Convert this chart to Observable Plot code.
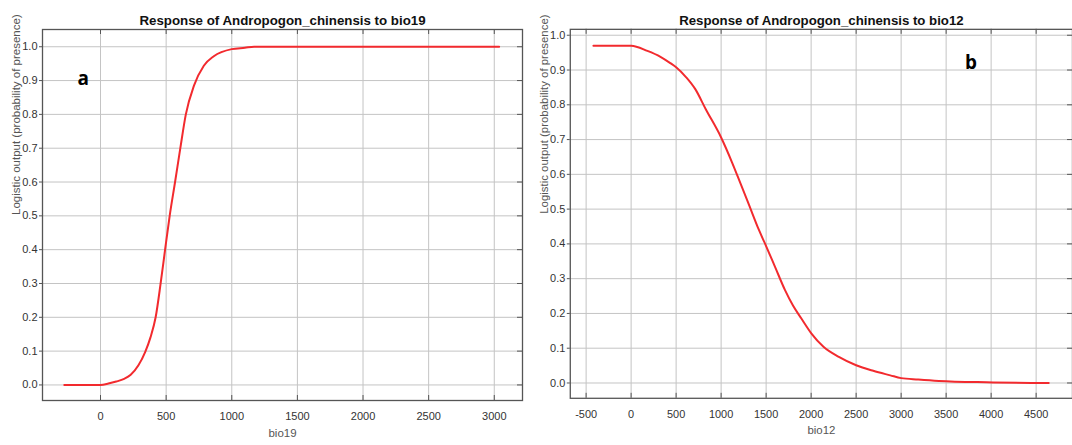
<!DOCTYPE html>
<html>
<head>
<meta charset="utf-8">
<script src="https://cdn.jsdelivr.net/npm/d3@7"></script>
<script src="https://cdn.jsdelivr.net/npm/@observablehq/plot@0.6"></script>
<style>
  html, body { margin: 0; padding: 0; background: #fff; overflow: hidden; }
  #wrap { position: relative; width: 1072px; height: 445px; overflow: hidden; }
  #left, #right { position: absolute; top: 0; }
  #left { left: 0; }
  #right { left: 530px; }
  svg { display: block; }
</style>
</head>
<body>
<div id="wrap"><div id="left"></div><div id="right"></div></div>
<script>
// ---- data ----
const titleA = "Response of Andropogon_chinensis to bio19";
const titleB = "Response of Andropogon_chinensis to bio12";
const xLabelA = "bio19";
const xLabelB = "bio12";
const yLabel = "Logistic output (probability of presence)";
const panelA = "a";
const panelB = "b";

const bio19 = [-276, 0, 60, 120, 180, 230, 289, 340, 380, 420, 458, 492, 527, 568, 608, 650, 712, 787, 863, 1000, 1100, 1170, 3037];
const respA = [0, 0, 0.004, 0.01, 0.018, 0.03, 0.058, 0.097, 0.14, 0.2, 0.3, 0.4, 0.5, 0.6, 0.7, 0.8, 0.885, 0.944, 0.972, 0.993, 0.997, 1.0, 1.0];

const bio12 = [-419, 0, 181, 326, 435, 500, 612, 713, 828, 1000, 1122, 1215, 1310, 1420, 1489, 1599, 1710, 1800, 1890, 2004, 2137, 2308, 2500, 2690, 2880, 3000, 3190, 3420, 3950, 4640];
const respB = [0.97, 0.97, 0.955, 0.938, 0.92, 0.908, 0.879, 0.845, 0.788, 0.706, 0.634, 0.574, 0.512, 0.44, 0.4, 0.334, 0.267, 0.222, 0.186, 0.142, 0.104, 0.075, 0.051, 0.035, 0.022, 0.014, 0.010, 0.006, 0.002, 0.0];

const xTicksA = [0, 500, 1000, 1500, 2000, 2500, 3000];
const xTicksB = [-500, 0, 500, 1000, 1500, 2000, 2500, 3000, 3500, 4000, 4500];
const yTicks = [0, 0.1, 0.2, 0.3, 0.4, 0.5, 0.6, 0.7, 0.8, 0.9, 1.0];

const FONT = "'Liberation Sans', Arial, sans-serif";

function panel({width, marginLeft, marginRight, xDomain, yDomain, xTicks, xs, ys, title, xLabel, letter, letterDx, letterDy}) {
  const height = 445, marginTop = 29, marginBottom = 45;
  const H = height - marginTop - marginBottom;
  const W = width - marginLeft - marginRight;
  const data = xs.map((x, i) => ({x, y: ys[i]}));
  return Plot.plot({
    width, height, marginLeft, marginRight, marginTop, marginBottom,
    style: {fontFamily: FONT, fontSize: "11px", color: "#333", background: "#fff"},
    x: {domain: xDomain, label: null},
    y: {domain: yDomain, label: null},
    marks: [
      Plot.gridX(xTicks, {stroke: "#c4c4c4", strokeOpacity: 1, strokeWidth: 1}),
      Plot.gridY(yTicks, {stroke: "#c4c4c4", strokeOpacity: 1, strokeWidth: 1}),
      Plot.axisY(yTicks, {tickSize: 3, tickPadding: 2, tickFormat: d3.format(".1f"), stroke: "#555", fill: "#333", label: null}),
      Plot.axisX(xTicks, {tickSize: 0, tickPadding: 12, tickFormat: d => String(d), fill: "#333", label: null}),
      Plot.tickX(xTicks, {x: d => d, insetTop: H - 5, stroke: "#555"}),
      Plot.tickX(xTicks, {x: d => d, insetBottom: H - 5, stroke: "#555"}),
      Plot.tickY(yTicks, {y: d => d, insetLeft: W - 5, stroke: "#555"}),
      Plot.frame({stroke: "#555", strokeWidth: 1.3}),
      Plot.line(data, {x: "x", y: "y", stroke: "#f22a2e", strokeWidth: 2, curve: "monotone-x"}),
      Plot.text([title], {frameAnchor: "top", dy: -14, fontWeight: "bold", fontSize: 13.3, fill: "#111"}),
      Plot.text([yLabel], {frameAnchor: "left", dx: -26, rotate: -90, fontSize: 11.5, fill: "#555"}),
      Plot.text([xLabel], {frameAnchor: "bottom", dy: 36, fontSize: 11.5, fill: "#555"}),
      Plot.text([letter], {frameAnchor: "top-left", dx: letterDx, dy: letterDy, fontWeight: "bold", fontSize: 19, fill: "#000", fontFamily: "'Open Sans', sans-serif"})
    ]
  });
}

document.getElementById("left").appendChild(panel({
  width: 530, marginLeft: 42, marginRight: 8,
  xDomain: [-442, 3215], yDomain: [-0.046, 1.051], xTicks: xTicksA,
  xs: bio19, ys: respA, title: titleA, xLabel: xLabelA, letter: panelA, letterDx: 35, letterDy: 42
}));
document.getElementById("right").appendChild(panel({
  width: 545, marginLeft: 40, marginRight: 0,
  xDomain: [-676, 4904], yDomain: [-0.044, 1.017], xTicks: xTicksB,
  xs: bio12, ys: respB, title: titleB, xLabel: xLabelB, letter: panelB, letterDx: 397, letterDy: 26
}));
</script>
</body>
</html>
